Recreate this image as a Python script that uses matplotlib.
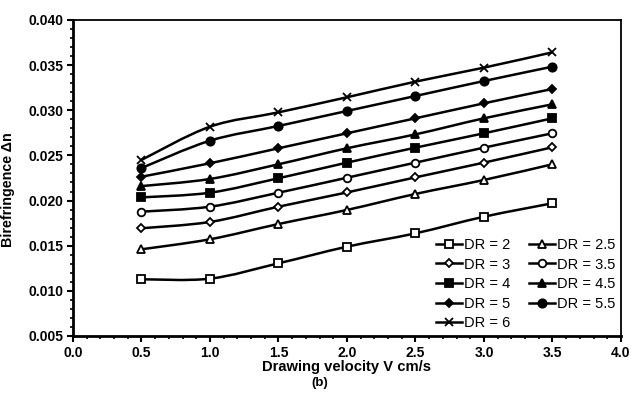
import numpy as np
import matplotlib
matplotlib.use("Agg")
import matplotlib.pyplot as plt
from matplotlib.path import Path
from matplotlib.patches import PathPatch
from matplotlib.ticker import MultipleLocator, FormatStrFormatter

plt.rcParams['font.family'] = ['Liberation Sans', 'DejaVu Sans']

velocity = [0.5, 1.0, 1.5, 2.0, 2.5, 3.0, 3.5]
labels = ["DR = 2", "DR = 2.5", "DR = 3", "DR = 3.5", "DR = 4",
          "DR = 4.5", "DR = 5", "DR = 5.5", "DR = 6"]
dr2 = [0.01128, 0.01135, 0.01305, 0.01489, 0.01637, 0.01821, 0.01970]
dr25 = [0.01460, 0.01571, 0.01740, 0.01896, 0.02073, 0.02228, 0.02402]
dr3 = [0.01693, 0.01763, 0.01932, 0.02090, 0.02257, 0.02420, 0.02590]
dr35 = [0.01877, 0.01932, 0.02087, 0.02253, 0.02420, 0.02586, 0.02745]
dr4 = [0.02035, 0.02087, 0.02247, 0.02420, 0.02586, 0.02745, 0.02911]
dr45 = [0.02160, 0.02239, 0.02402, 0.02579, 0.02733, 0.02911, 0.03066]
dr5 = [0.02264, 0.02413, 0.02579, 0.02745, 0.02911, 0.03077, 0.03236]
dr55 = [0.02360, 0.02663, 0.02826, 0.02992, 0.03158, 0.03324, 0.03483]
dr6 = [0.02450, 0.02818, 0.02977, 0.03144, 0.03317, 0.03472, 0.03642]
series = [dr2, dr25, dr3, dr35, dr4, dr45, dr5, dr55, dr6]

markers = ['s', '^', 'D', 'o', 's', '^', 'D', 'o', 'x']
faces = ['white', 'white', 'white', 'white', 'black', 'black', 'black', 'black', 'black']
msizes = [5.5, 5.8, 4.0, 5.5, 5.5, 5.8, 4.0, 6.0, 6.0]

fig = plt.figure(figsize=(6.33, 3.97), dpi=100)
ax = fig.add_axes([0.1153, 0.1537, 0.8657, 0.796])


def smooth_path(xs, ys, t=1/6):
    # Catmull-Rom style Bezier control points (Excel-like smoothed line)
    xs = np.asarray(xs, float)
    ys = np.asarray(ys, float)
    n = len(xs)
    verts = [(xs[0], ys[0])]
    codes = [Path.MOVETO]
    for i in range(n - 1):
        x0, y0 = (xs[i - 1], ys[i - 1]) if i > 0 else (xs[i], ys[i])
        x1, y1 = xs[i], ys[i]
        x2, y2 = xs[i + 1], ys[i + 1]
        x3, y3 = (xs[i + 2], ys[i + 2]) if i + 2 < n else (xs[i + 1], ys[i + 1])
        c1 = (x1 + (x2 - x0) * t, y1 + (y2 - y0) * t)
        c2 = (x2 - (x3 - x1) * t, y2 - (y3 - y1) * t)
        verts += [c1, c2, (x2, y2)]
        codes += [Path.CURVE4] * 3
    return Path(verts, codes)


handles = []
for vals, lab, m, fc, ms in zip(series, labels, markers, faces, msizes):
    ax.add_patch(PathPatch(smooth_path(velocity, vals), facecolor='none',
                           edgecolor='black', lw=1.8, zorder=2))
    ax.plot(velocity, vals, linestyle='none', marker=m, markersize=ms,
            markerfacecolor=fc, markeredgecolor='black',
            markeredgewidth=1.3, zorder=3)
    h, = ax.plot([], [], color='black', lw=1.8, marker=m, markersize=ms,
                 markerfacecolor=fc, markeredgecolor='black',
                 markeredgewidth=1.3, label=lab)
    handles.append(h)

ax.set_xlim(0.0, 4.0)
ax.set_ylim(0.005, 0.040)
ax.xaxis.set_major_locator(MultipleLocator(0.5))
ax.xaxis.set_minor_locator(MultipleLocator(0.1))
ax.yaxis.set_major_locator(MultipleLocator(0.005))
ax.yaxis.set_minor_locator(MultipleLocator(0.001))
ax.xaxis.set_major_formatter(FormatStrFormatter('%.1f'))
ax.yaxis.set_major_formatter(FormatStrFormatter('%.3f'))

for lbl in ax.get_xticklabels() + ax.get_yticklabels():
    lbl.set_fontweight('bold')
    lbl.set_fontsize(10)

ax.tick_params(which='major', direction='out', length=4, width=1.5, pad=3)
ax.tick_params(which='minor', direction='out', length=2.5, width=1.2)

for side in ['left', 'bottom']:
    ax.spines[side].set_linewidth(2.0)
for side in ['top', 'right']:
    ax.spines[side].set_linewidth(1.3)

ax.set_xlabel('Drawing velocity V cm/s', fontsize=10.6, fontweight='bold', labelpad=0)
ax.set_ylabel('Birefringence Δn', fontsize=10.3, fontweight='bold')
ax.yaxis.set_label_coords(-0.105, 0.462)

# row-wise legend order like the reference (two columns)
order = [0, 2, 4, 6, 8, 1, 3, 5, 7]
leg = ax.legend([handles[i] for i in order], [labels[i] for i in order],
                loc='lower right', ncol=2, frameon=True, fontsize=10.5,
                handlelength=1.75, handletextpad=0.15, columnspacing=1.3,
                labelspacing=0.38, borderaxespad=0.25, borderpad=0.15,
                edgecolor='none', facecolor='white', framealpha=1.0)
leg.get_frame().set_linewidth(0)

fig.text(0.505, 0.035, '(b)', ha='center', va='center', fontsize=9.5, fontweight='bold')

fig.savefig('out.png', dpi=100)
